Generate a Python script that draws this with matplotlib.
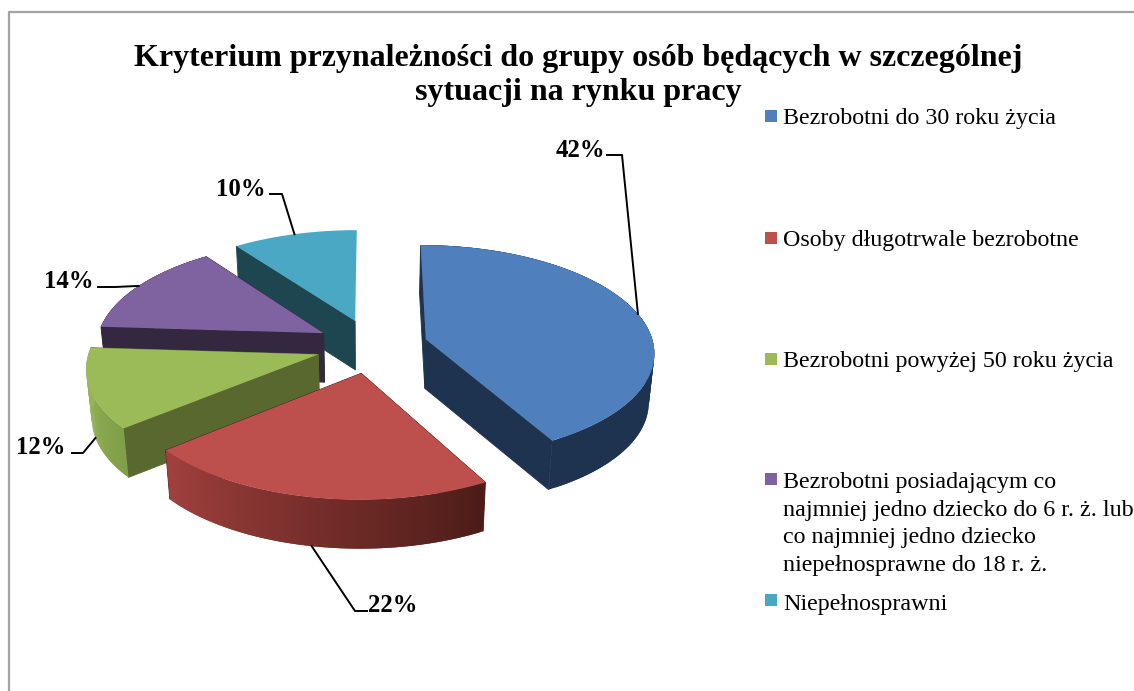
import numpy as np
import matplotlib
matplotlib.use('Agg')
import matplotlib.pyplot as plt
from matplotlib.colors import to_rgb

title_lines = ['Kryterium przynależności do grupy osób będących w szczególnej',
               'sytuacji na rynku pracy']
values = [42, 22, 12, 14, 10]
legend_labels = ['Bezrobotni do 30 roku życia',
                 'Osoby długotrwale bezrobotne',
                 'Bezrobotni powyżej 50 roku życia',
                 'Bezrobotni posiadającym co\nnajmniej jedno dziecko do 6 r. ż. lub\nco najmniej jedno dziecko\nniepełnosprawne do 18 r. ż.',
                 'Niepełnosprawni']
top_colors = ['#4f7fbc', '#bd4f4c', '#9bbb59', '#7f62a0', '#4aa8c4']
face_colors = ['#1d3350', '#4d1c18', '#58682f', '#33283f', '#1d4651']
rim_start = ['#1d3350', '#4d1c18', '#7f9f48', '#33283f', '#1d4651']
rim_end = ['#1d3350', '#a0403d', '#9bb95a', '#33283f', '#1d4651']

# pixel layout of the pie
cx, cy = 372, 346
rx, ry = 228, 106
ex, ey = 56, 27
persp = 0.11
drop = 49
base_shrink = 0.98

plt.rcParams['font.family'] = ['Liberation Serif', 'DejaVu Serif']

fig = plt.figure(figsize=(11.34, 6.91), dpi=100)
ax = fig.add_axes([0, 0, 1, 1])
ax.set_xlim(0, 1134)
ax.set_ylim(691, 0)
ax.axis('off')

# chart frame, cut off by the image on the right and at the bottom
ax.plot([8.5, 8.5, 1134], [691, 11.5, 11.5], color='#a3a3a3', lw=1.6)


def project(theta, ox, oy, base=False):
    # theta clockwise from the back of the pie
    c = np.cos(theta)
    s = 1 / (1 + persp * (c + oy / ry))
    x = s * (ox + rx * np.sin(theta))
    y = cy - s * (oy + ry * c)
    if base:
        return cx + base_shrink * x, y + drop
    return cx + x, y


def apex(ox, oy, base=False):
    s = 1 / (1 + persp * oy / ry)
    if base:
        return cx + base_shrink * s * ox, cy - s * oy + drop
    return cx + s * ox, cy - s * oy


edges = np.radians(np.cumsum([0] + values) * 3.6)
mids = (edges[:-1] + edges[1:]) / 2
offsets = [(ex * np.sin(m), ey * np.cos(m)) for m in mids]
last = len(values) - 1

# painter's order: back slices first
for i in [4, 3, 2, 1, 0]:
    t0, t1 = edges[i], edges[i + 1]
    ox, oy = offsets[i]
    th = np.linspace(t0, t1, 80)

    # the cut faces; the one on the last slice looks away from the viewer
    ax_, ay_ = apex(ox, oy)
    bx_, by_ = apex(ox, oy, base=True)
    for t in ((t0,) if i == last else (t0, t1)):
        xa, ya = project(t, ox, oy)
        xb, yb = project(t, ox, oy, base=True)
        ax.fill([ax_, xa, xb, bx_], [ay_, ya, yb, by_], fc=face_colors[i],
                ec=face_colors[i], lw=0.6)

    # outer wall, shaded along the arc; segments overlap so no seams show
    # the last slice sits at the back, its wall can't be seen
    if i != last:
        c0 = np.array(to_rgb(rim_start[i]))
        c1 = np.array(to_rgb(rim_end[i]))
        for k in range(len(th) - 2):
            xa, ya = project(th[k:k + 3], ox, oy)
            xb, yb = project(th[k:k + 3], ox, oy, base=True)
            col = c0 + (c1 - c0) * k / (len(th) - 3)
            ax.fill(np.r_[xa, xb[::-1]], np.r_[ya, yb[::-1]], color=col, lw=0)

    # top surface
    xa, ya = project(th, ox, oy)
    ax.fill(np.r_[ax_, xa], np.r_[ay_, ya], color=top_colors[i], lw=0)

# data labels with leader lines
label_pos = [(580, 150), (393, 606), (41, 447), (69, 281), (241, 189)]
leader_elbow = [(622, 155), (355, 611), (83, 453), (115, 287), (282, 194)]
leader_stub = [(607, 155), (367, 611), (72, 453), (98, 287), (270, 194)]
leader_on_base = [False, True, True, False, False]
for i, v in enumerate(values):
    px, py = project(mids[i], *offsets[i], base=leader_on_base[i])
    ax.plot([leader_stub[i][0], leader_elbow[i][0], px],
            [leader_stub[i][1], leader_elbow[i][1], py], color='black', lw=1.4, zorder=1)
    ax.text(label_pos[i][0], label_pos[i][1], f'{v}%', fontsize=17.8, fontweight='bold',
            ha='center', va='center')

# title
for line, y in zip(title_lines, [58, 92]):
    ax.text(578, y, line, fontsize=23, fontweight='bold', ha='center', va='center')

# legend
legend_y = [116, 238, 359, 479, 600]
text_y = [108, 230, 351, 472, 594]
for i, label in enumerate(legend_labels):
    y = legend_y[i]
    ax.fill([765, 777, 777, 765], [y - 6, y - 6, y + 6, y + 6], color=top_colors[i], lw=0)
    ax.text(783, text_y[i], label, fontsize=17.3, ha='left', va='top', linespacing=1.42)

fig.savefig('out.png', dpi=100)
